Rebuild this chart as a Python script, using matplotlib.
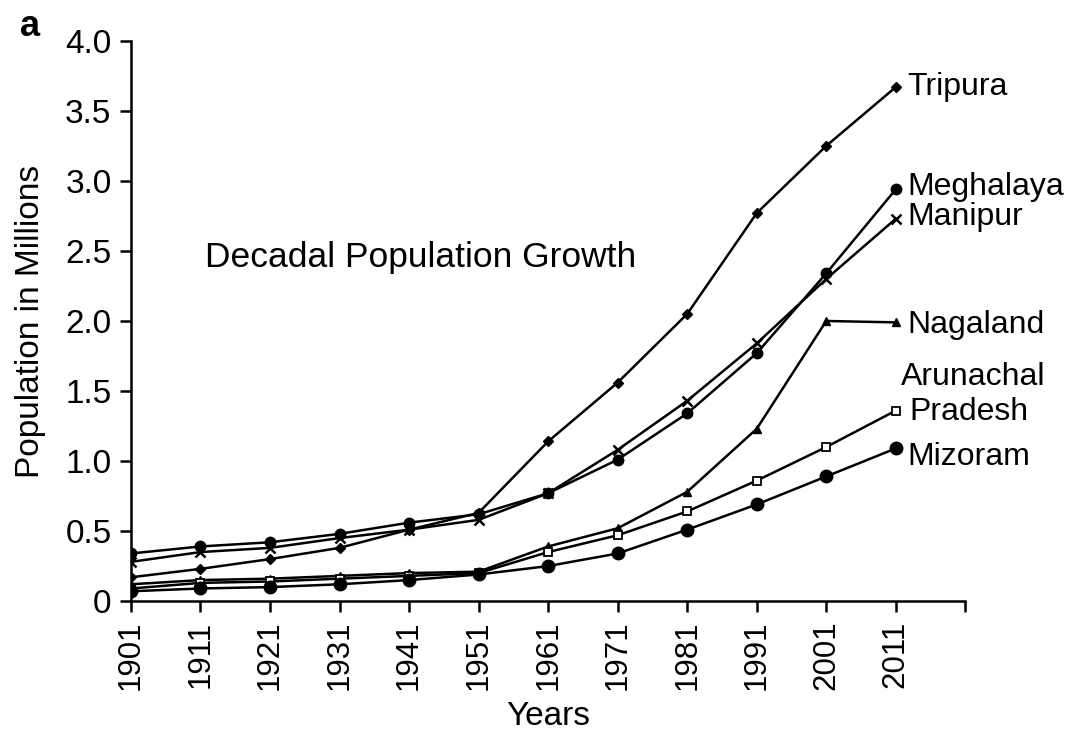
import matplotlib.pyplot as plt

plt.rcParams['font.family'] = ['Liberation Sans', 'DejaVu Sans']

years = [1901, 1911, 1921, 1931, 1941, 1951, 1961, 1971, 1981, 1991, 2001, 2011]

tripura = [0.17, 0.23, 0.30, 0.38, 0.51, 0.63, 1.14, 1.56, 2.05, 2.77, 3.25, 3.67]
meghalaya = [0.34, 0.39, 0.42, 0.48, 0.56, 0.62, 0.77, 1.01, 1.34, 1.77, 2.34, 2.94]
manipur = [0.28, 0.35, 0.38, 0.45, 0.51, 0.58, 0.77, 1.08, 1.43, 1.84, 2.30, 2.73]
nagaland = [0.12, 0.15, 0.16, 0.18, 0.20, 0.21, 0.39, 0.52, 0.78, 1.23, 2.00, 1.99]
arunachal = [0.09, 0.13, 0.14, 0.16, 0.18, 0.20, 0.35, 0.47, 0.64, 0.86, 1.10, 1.36]
mizoram = [0.07, 0.09, 0.10, 0.12, 0.15, 0.19, 0.25, 0.34, 0.51, 0.69, 0.89, 1.09]

fig = plt.figure(figsize=(10.69, 7.43), dpi=100)
ax = fig.add_axes([0.1225, 0.191, 0.7805, 0.754])

lw = 1.8
ax.plot(years, tripura, color='black', lw=lw, marker='D', ms=5)
ax.plot(years, meghalaya, color='black', lw=lw, marker='o', ms=7.5)
ax.plot(years, manipur, color='black', lw=lw, marker='x', ms=7.5, mew=1.8)
ax.plot(years, nagaland, color='black', lw=lw, marker='^', ms=6)
ax.plot(years, arunachal, color='black', lw=lw, marker='s', ms=5.5,
        mfc='white', mew=1.3)
ax.plot(years, mizoram, color='black', lw=lw, marker='o', ms=9)

# state names next to the last point of each line
fs = 23
tx = 2012.7
ax.text(tx, tripura[-1], 'Tripura', fontsize=fs, va='center')
ax.text(tx, meghalaya[-1] + 0.02, 'Meghalaya', fontsize=fs, va='center')
ax.text(tx, manipur[-1] + 0.01, 'Manipur', fontsize=fs, va='center')
ax.text(tx, nagaland[-1] - 0.02, 'Nagaland', fontsize=fs, va='center')
ax.text(2011.7, arunachal[-1] + 0.24, 'Arunachal', fontsize=fs, va='center')
ax.text(2013.0, arunachal[-1] - 0.01, 'Pradesh', fontsize=fs, va='center')
ax.text(tx, mizoram[-1] - 0.06, 'Mizoram', fontsize=fs, va='center')

ax.text(1911.6, 2.45, 'Decadal Population Growth', fontsize=25.5, va='center')

ax.set_xlim(1901, 2021)
ax.set_ylim(0, 4.0)
ax.set_xticks(list(range(1901, 2022, 10)))
ax.set_xticklabels([str(y) for y in years] + [''], rotation=90, fontsize=22.5)
ax.set_yticks([0, 0.5, 1.0, 1.5, 2.0, 2.5, 3.0, 3.5, 4.0])
ax.set_yticklabels(['0', '0.5', '1.0', '1.5', '2.0', '2.5', '3.0', '3.5', '4.0'],
                   fontsize=24)
ax.tick_params(axis='both', direction='out', length=8, width=1.8, pad=6)

for side in ['top', 'right']:
    ax.spines[side].set_visible(False)
for side in ['left', 'bottom']:
    ax.spines[side].set_linewidth(1.8)

ax.set_xlabel('Years', fontsize=24, labelpad=8)
ax.set_ylabel('Population in Millions', fontsize=24, labelpad=14)

fig.text(0.019, 0.965, 'a', fontsize=26, fontweight='bold', va='center')

fig.savefig('out.png', dpi=100)
